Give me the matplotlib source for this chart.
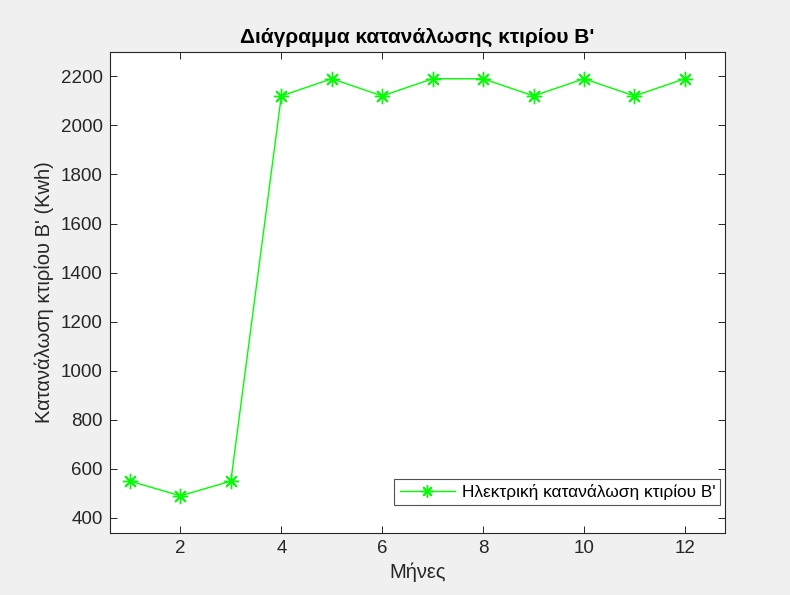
import numpy as np
import matplotlib.pyplot as plt

plt.rcParams['font.family'] = ['Liberation Sans', 'DejaVu Sans']

# monthly consumption, building B
months = [1, 2, 3, 4, 5, 6, 7, 8, 9, 10, 11, 12]
consumption = [550, 490, 550, 2120, 2190, 2120, 2190, 2190, 2120, 2190, 2120, 2190]
xticks = [2, 4, 6, 8, 10, 12]
yticks = [400, 600, 800, 1000, 1200, 1400, 1600, 1800, 2000, 2200]

fig = plt.figure(figsize=(7.9, 5.95), dpi=100, facecolor='#f0f0f0')
ax = fig.add_axes([0.139, 0.104, 0.779, 0.809])

ax.plot(months, consumption, color='#00ff00', marker=(8, 2, 0), markersize=11,
        markeredgewidth=1.0, linewidth=1, label="Ηλεκτρική κατανάλωση κτιρίου Β'")

ax.set_xlim(0.6, 12.8)
ax.set_ylim(338, 2300)
ax.set_xticks(xticks)
ax.set_yticks(yticks)
ax.tick_params(direction='in', top=True, right=True, length=5,
               labelsize=13.5, colors='#262626', width=0.7, pad=5)
for s in ax.spines.values():
    s.set_color('#262626')
    s.set_linewidth(0.8)

ax.set_title("Διάγραμμα κατανάλωσης κτιρίου Β'", fontsize=15, fontweight='bold', pad=6)
ax.set_xlabel('Μήνες', fontsize=14.5, color='#262626', labelpad=4)
ax.set_ylabel("Κατανάλωση κτιρίου Β' (Kwh)", fontsize=14.5, color='#262626', labelpad=5)

leg = ax.legend(loc='lower right', bbox_to_anchor=(0.992, 0.058), borderaxespad=0,
                fancybox=False, edgecolor='#262626', fontsize=12.4,
                handlelength=3.2, handletextpad=0.4, borderpad=0.3, markerscale=0.8)
leg.get_frame().set_linewidth(0.8)

fig.savefig('out.png', dpi=100, facecolor=fig.get_facecolor())
